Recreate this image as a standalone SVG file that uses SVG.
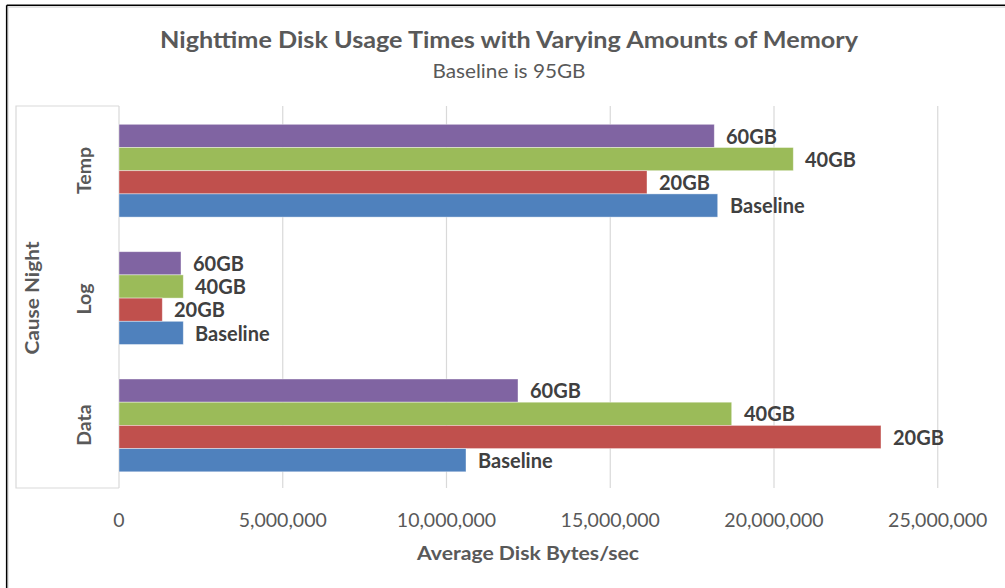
<svg xmlns="http://www.w3.org/2000/svg" width="1005" height="588" viewBox="0 0 1005 588">
<style>
.title{font-family:Lato,"Open Sans",sans-serif;font-weight:bold;fill:#595959}
.sub{font-family:Lato,"Open Sans",sans-serif;fill:#595959}
.tick{font-family:Lato,"Open Sans",sans-serif;font-size:19.5px;fill:#595959;text-anchor:middle}
.axt{font-family:Lato,"Open Sans",sans-serif;font-weight:bold;font-size:19.5px;fill:#595959;text-anchor:middle}
.lbl{font-family:Lato,"Open Sans",sans-serif;font-weight:bold;font-size:20px;fill:#404040}
.grid{stroke:#D9D9D9;stroke-width:1.2}
.bar{stroke:#ffffff;stroke-opacity:0.5;stroke-width:0.8}
.p{fill:#8064A2}.g{fill:#9BBB59}.r{fill:#C0504D}.b{fill:#4F81BD}
</style>
<rect width="1005" height="588" fill="#ffffff"/>
<g id="frame">
<line x1="6.7" y1="5.3" x2="1005" y2="5.3" stroke="#000" stroke-width="1.6"/>
<line x1="6.7" y1="5.3" x2="6.7" y2="588" stroke="#000" stroke-width="1.6"/>
<line x1="8" y1="7" x2="1005" y2="7" stroke="#c8c8c8" stroke-width="1"/>
<line x1="8.3" y1="7" x2="8.3" y2="588" stroke="#e0e0e0" stroke-width="1"/>
</g>
<g id="titles">
<text class="title" x="509" y="47.5" font-size="23" text-anchor="middle" textLength="698" lengthAdjust="spacingAndGlyphs">Nighttime Disk Usage Times with Varying Amounts of Memory</text>
<text class="sub" x="509" y="78" font-size="20" text-anchor="middle" textLength="153" lengthAdjust="spacingAndGlyphs">Baseline is 95GB</text>
</g>
<g id="gridlines">
<polyline points="119,106 16,106 16,488 119,488" fill="none" stroke="#D9D9D9" stroke-width="1.2"/>
<line class="grid" x1="119" y1="106" x2="119" y2="488"/>
<line class="grid" x1="282.75" y1="106" x2="282.75" y2="488"/>
<line class="grid" x1="446.5" y1="106" x2="446.5" y2="488"/>
<line class="grid" x1="610.25" y1="106" x2="610.25" y2="488"/>
<line class="grid" x1="774" y1="106" x2="774" y2="488"/>
<line class="grid" x1="937.75" y1="106" x2="937.75" y2="488"/>
</g>
<g id="x-axis">
<text class="tick" x="119" y="527">0</text>
<text class="tick" x="282.75" y="527">5,000,000</text>
<text class="tick" x="446.5" y="527">10,000,000</text>
<text class="tick" x="610.25" y="527">15,000,000</text>
<text class="tick" x="774" y="527">20,000,000</text>
<text class="tick" x="937.75" y="527">25,000,000</text>
<text class="axt" x="528" y="559.5" textLength="222" lengthAdjust="spacingAndGlyphs">Average Disk Bytes/sec</text>
</g>
<g id="y-axis">
<text class="axt" transform="translate(39,298) rotate(-90)" font-size="20" textLength="113" lengthAdjust="spacingAndGlyphs">Cause Night</text>
<text class="axt" transform="translate(91,170.5) rotate(-90)" font-size="21">Temp</text>
<text class="axt" transform="translate(91,299) rotate(-90)" font-size="21">Log</text>
<text class="axt" transform="translate(91,425) rotate(-90)" font-size="21">Data</text>
</g>
<g id="temp">
<rect class="bar p" x="119" y="124.3" width="595.3" height="23.2"/>
<rect class="bar g" x="119" y="147.5" width="674.3" height="23.2"/>
<rect class="bar r" x="119" y="170.7" width="528" height="23.2"/>
<rect class="bar b" x="119" y="193.9" width="598.7" height="23.2"/>
<text class="lbl" x="726" y="143.5">60GB</text>
<text class="lbl" x="805" y="166.7">40GB</text>
<text class="lbl" x="659" y="189.9">20GB</text>
<text class="lbl" x="730" y="213.1">Baseline</text>
</g>
<g id="log">
<rect class="bar p" x="119" y="251.7" width="62" height="23.2"/>
<rect class="bar g" x="119" y="274.9" width="64.3" height="23.2"/>
<rect class="bar r" x="119" y="298.1" width="43.3" height="23.2"/>
<rect class="bar b" x="119" y="321.3" width="64.3" height="23.2"/>
<text class="lbl" x="193" y="270.9">60GB</text>
<text class="lbl" x="195" y="294.1">40GB</text>
<text class="lbl" x="174" y="317.3">20GB</text>
<text class="lbl" x="195" y="340.5">Baseline</text>
</g>
<g id="data">
<rect class="bar p" x="119" y="379" width="399" height="23.2"/>
<rect class="bar g" x="119" y="402.2" width="612.7" height="23.2"/>
<rect class="bar r" x="119" y="425.4" width="762" height="23.2"/>
<rect class="bar b" x="119" y="448.6" width="347" height="23.2"/>
<text class="lbl" x="530" y="398.2">60GB</text>
<text class="lbl" x="744" y="421.4">40GB</text>
<text class="lbl" x="893" y="444.6">20GB</text>
<text class="lbl" x="478" y="467.8">Baseline</text>
</g>
</svg>
